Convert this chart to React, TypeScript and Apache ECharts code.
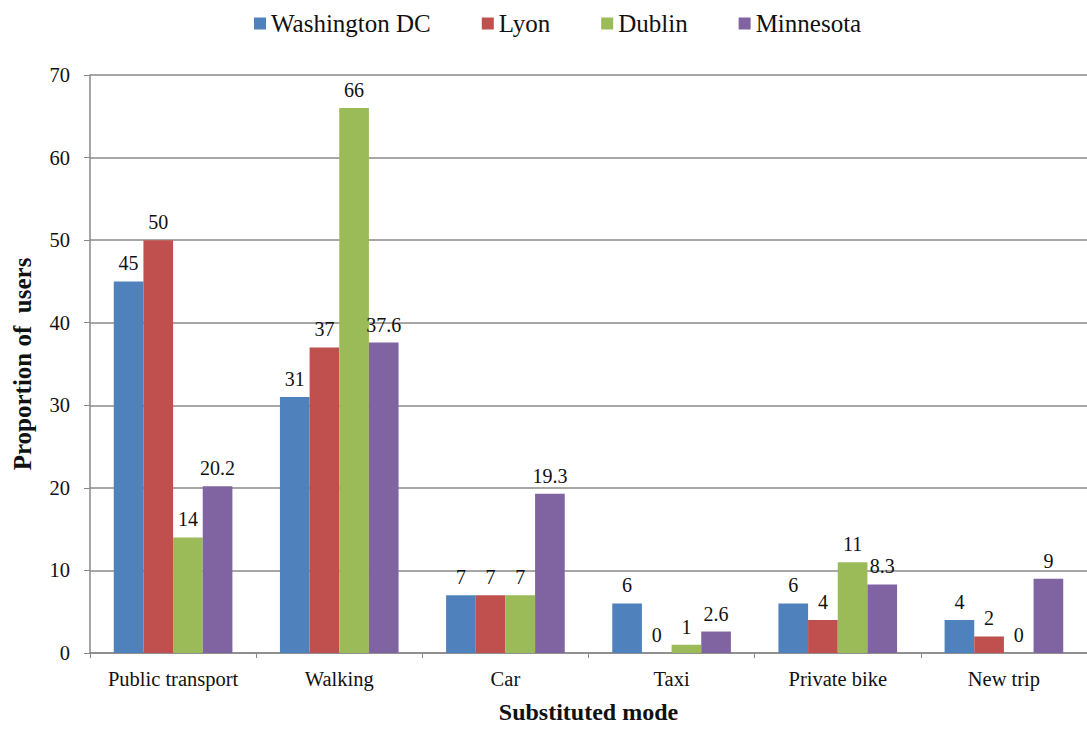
import React, { useEffect, useRef } from "react";
import * as echarts from "echarts";

const categories = ["Public transport", "Walking", "Car", "Taxi", "Private bike", "New trip"];
const seriesNames = ["Washington DC", "Lyon", "Dublin", "Minnesota"];
const washington = [45, 31, 7, 6, 6, 4];
const lyon = [50, 37, 7, 0, 4, 2];
const dublin = [14, 66, 7, 1, 11, 0];
const minnesota = [20.2, 37.6, 19.3, 2.6, 8.3, 9];
const colors = ["#4F81BD", "#C0504D", "#9BBB59", "#8064A2"];
const yTicks = { min: 0, max: 70, interval: 10 };

const FONT = "Liberation Serif";

export default function App() {
  const ref = useRef<HTMLDivElement>(null);
  useEffect(() => {
    if (!ref.current) return;
    const chart = echarts.init(ref.current, null, { renderer: "svg" });
    const values = [washington, lyon, dublin, minnesota];
    chart.setOption({
      animation: false,
      textStyle: { fontFamily: FONT },
      legend: {
        top: 6,
        left: 249,
        itemWidth: 12,
        itemHeight: 12,
        itemGap: 51,
        icon: "rect",
        textStyle: { fontFamily: FONT, fontSize: 25, color: "#111" },
        data: seriesNames,
      },
      grid: { left: 90, top: 75, bottom: 72, width: 1008 },
      xAxis: {
        type: "category",
        data: categories,
        name: "Substituted mode",
        nameLocation: "middle",
        nameGap: 47,
        nameTextStyle: { fontFamily: FONT, fontSize: 24, fontWeight: "bold", color: "#111" },
        axisLine: { lineStyle: { color: "#888", width: 1.5 } },
        axisTick: { show: true, length: 5, interval: 0, lineStyle: { color: "#888" } },
        axisLabel: { fontFamily: FONT, fontSize: 20.5, color: "#111", margin: 15, interval: 0 },
      },
      yAxis: {
        type: "value",
        min: yTicks.min,
        max: yTicks.max,
        interval: yTicks.interval,
        name: "Proportion of  users",
        nameLocation: "middle",
        nameGap: 55,
        nameTextStyle: { fontFamily: FONT, fontSize: 25, fontWeight: "bold", color: "#111" },
        axisLine: { show: true, lineStyle: { color: "#888", width: 1.5 } },
        axisTick: { show: true, length: 6, lineStyle: { color: "#888" } },
        axisLabel: { fontFamily: FONT, fontSize: 20.5, color: "#111", margin: 20 },
        splitLine: { lineStyle: { color: "#8a8a8a", width: 1.5 } },
      },
      series: seriesNames.map((name, i) => ({
        name,
        type: "bar",
        data: values[i],
        barGap: "0%",
        barCategoryGap: "28.6%",
        itemStyle: { color: colors[i] },
        label: {
          show: true,
          position: "top",
          distance: 8,
          fontFamily: FONT,
          fontSize: 20,
          color: "#111",
        },
      })),
    });
    return () => chart.dispose();
  }, []);
  return <div ref={ref} style={{ width: 1087, height: 729, position: "absolute", left: 0, top: 0, background: "#fff" }} />;
}
